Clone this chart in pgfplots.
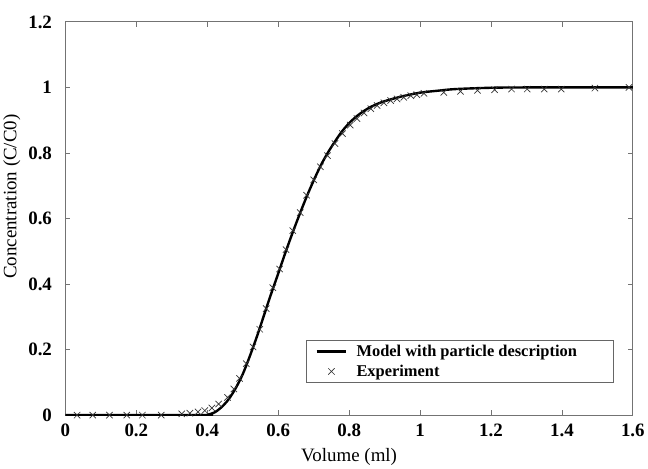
\documentclass[border=0pt]{standalone}
\usepackage{fontspec}
\setmainfont{Liberation Serif}
\usepackage{pgfplots}
\pgfplotsset{compat=1.18}
\pgfplotsset{
  legline/.style={legend image code/.code={\draw[##1, line width=2.4pt] (0pt,0pt) -- (30pt,0pt); \path (37pt,0pt);}},
  legmark/.style={legend image code/.code={\draw[##1] plot coordinates {(15pt,0pt)}; \path (0pt,0pt) (37pt,0pt);}},
}
\begin{document}
\begin{tikzpicture}
\begin{axis}[
  name=ax,
  scale only axis,
  width=570pt, height=395pt,
  xmin=0, xmax=1.6, ymin=0, ymax=1.2,
  xtick={0,0.2,...,1.6}, ytick={0,0.2,...,1.2},
  /pgf/number format/assume math mode=true,
  tick label style={font=\fontsize{19}{21}\selectfont\bfseries},
  xticklabel style={yshift=-5pt},
  yticklabel style={xshift=-10pt},
  label style={font=\fontsize{19}{21}\selectfont},
  xlabel={Volume (ml)},
  ylabel={Concentration (C/C0)},
  xlabel style={yshift=-5pt},
  ylabel style={yshift=1pt, xshift=22pt},
  axis line style={black!55, line width=0.8pt},
  tick style={black!55, line width=0.8pt},
  major tick length=5pt,
  tick align=inside,
  legend cell align=left,
  legend style={at={(0.967,0.081)}, anchor=south east, draw=black!60, line width=0.8pt,
    font=\fontsize{16.5}{19}\selectfont\bfseries, inner xsep=9pt, inner ysep=3pt,
    row sep=3pt},
]
\addplot[black, line width=2.4pt, smooth, legline] coordinates {
(0,0) (0.39,0) (0.40,0.001) (0.42,0.008) (0.44,0.024) (0.46,0.048) (0.48,0.082) (0.50,0.125)
(0.52,0.18) (0.54,0.24) (0.56,0.305) (0.58,0.37) (0.60,0.432) (0.62,0.495) (0.64,0.555)
(0.66,0.612) (0.68,0.666) (0.70,0.716) (0.72,0.762) (0.74,0.801) (0.76,0.835) (0.78,0.866)
(0.80,0.891) (0.82,0.911) (0.84,0.927) (0.86,0.940) (0.88,0.950) (0.90,0.958) (0.95,0.973)
(1.00,0.984) (1.05,0.990) (1.10,0.995) (1.20,0.999) (1.30,1.0) (1.6,1.0)
};
\addlegendentry{Model with particle description\hspace*{26pt}}
\addplot[only marks, mark=x, mark size=4.5pt, black!80, mark options={line width=0.7pt}, legmark] coordinates {
(0.033,0.0) (0.077,0.0) (0.124,0.0) (0.173,0.0) (0.217,0.0) (0.270,0.0)
(0.328,0.004) (0.351,0.006) (0.374,0.010) (0.393,0.014) (0.413,0.022) (0.432,0.034)
(0.457,0.054) (0.475,0.080) (0.491,0.112) (0.510,0.157) (0.529,0.208) (0.548,0.262)
(0.566,0.325) (0.585,0.389) (0.604,0.446) (0.622,0.505) (0.641,0.563) (0.662,0.618)
(0.680,0.671) (0.700,0.718) (0.719,0.758) (0.739,0.792) (0.760,0.829) (0.781,0.859)
(0.803,0.885) (0.822,0.905) (0.842,0.922) (0.861,0.935) (0.879,0.945) (0.898,0.953)
(0.917,0.960) (0.935,0.965) (0.954,0.970) (0.974,0.975) (0.991,0.978) (1.011,0.982)
(1.067,0.985) (1.114,0.988) (1.162,0.991) (1.210,0.993) (1.258,0.995) (1.302,0.995)
(1.350,0.995) (1.398,0.995) (1.493,0.998) (1.589,1.0)
};
\addlegendentry{Experiment}
\end{axis}
\path ([yshift=22pt]ax.north) ([yshift=-54pt]ax.south);
\end{tikzpicture}
\end{document}
